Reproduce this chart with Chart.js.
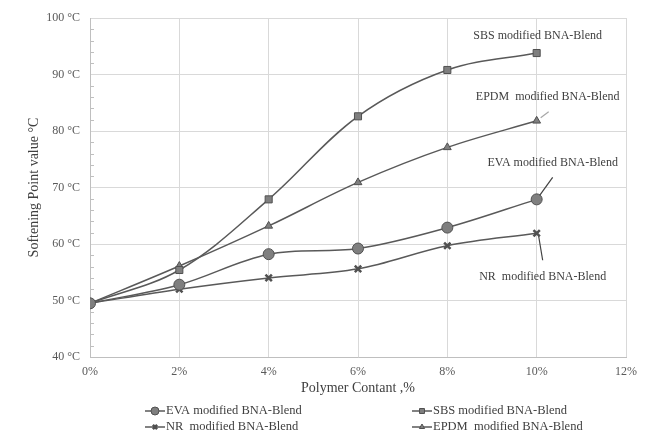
<!DOCTYPE html>
<html>
<head>
<meta charset="utf-8">
<script src="https://cdn.jsdelivr.net/npm/chart.js@4.4.0/dist/chart.umd.min.js"></script>
<style>
html,body{margin:0;padding:0;background:#fff}
</style>
</head>
<body>
<canvas id="myChart" width="653" height="440"></canvas>
<script>
// datos
var contenido = [0, 2, 4, 6, 8, 10];
var evaValores = [49.5, 52.8, 58.2, 59.2, 62.9, 67.9];
var sbsValores = [49.5, 55.4, 67.9, 82.6, 90.8, 93.8];
var nrValores = [49.5, 52.0, 54.0, 55.6, 59.7, 61.9];
var epdmValores = [49.5, 56.1, 63.2, 70.9, 77.1, 81.8];
var nombres = ['EVA modified BNA-Blend', 'SBS modified BNA-Blend', 'NR  modified BNA-Blend', 'EPDM  modified BNA-Blend'];
var etiquetas = ['EVA modified BNA-Blend', 'SBS modified BNA-Blend', 'NR  modified BNA-Blend', 'EPDM  modified BNA-Blend'];
var ejeXMin = 0, ejeXMax = 12, ejeXPaso = 2;
var ejeYMin = 40, ejeYMax = 100, ejeYPaso = 10;

var fuente = '"Liberation Serif", "Times New Roman", serif';

function puntos(valores){
    var lista = [];
    for(var i = 0; i < contenido.length; i++){
        lista.push({x: contenido[i], y: valores[i]});
    }
    return lista;
}

function serie(nombre, valores, estilo, radio, borde){
    return {
        label: nombre,
        data: puntos(valores),
        borderColor: '#595959',
        backgroundColor: '#7f7f7f',
        borderWidth: 1.5,
        tension: 0.35,
        pointStyle: estilo,
        pointRadius: radio,
        pointBorderColor: '#505050',
        pointBackgroundColor: '#7f7f7f',
        pointBorderWidth: borde
    };
}

// posiciones de los textos respecto al ultimo punto
var notas = [
    {dx: 16, dy: -37, linea: [3, -4, 16, -22], color: '#404040'},
    {dx: 1, dy: -17, linea: null},
    {dx: 6, dy: 44, linea: [2, 3, 6, 27], color: '#404040'},
    {dx: 11, dy: -24, linea: [4, -3, 12, -9], color: '#a6a6a6'}
];

var pluginExtras = {
    id: 'extras',
    beforeDatasetsDraw: function(chart){
        var ctx = chart.ctx;
        var y = chart.scales.y;
        ctx.save();
        ctx.strokeStyle = '#bfbfbf';
        ctx.lineWidth = 1;
        for(var v = ejeYMin; v <= ejeYMax; v += 2){
            if(v % ejeYPaso == 0) continue;
            var py = Math.round(y.getPixelForValue(v)) + 0.5;
            ctx.beginPath();
            ctx.moveTo(y.right, py);
            ctx.lineTo(y.right + 4, py);
            ctx.stroke();
        }
        ctx.restore();
    },
    afterDraw: function(chart){
        var ctx = chart.ctx;
        ctx.save();
        // textos junto a las curvas
        ctx.font = '12px ' + fuente;
        ctx.fillStyle = '#404040';
        ctx.textAlign = 'center';
        ctx.textBaseline = 'middle';
        chart.data.datasets.forEach(function(ds, i){
            var meta = chart.getDatasetMeta(i);
            var p = meta.data[meta.data.length - 1];
            var n = notas[i];
            ctx.fillText(etiquetas[i], p.x + n.dx, p.y + n.dy);
            if(n.linea){
                ctx.strokeStyle = n.color;
                ctx.lineWidth = 1.2;
                ctx.beginPath();
                ctx.moveTo(p.x + n.linea[0], p.y + n.linea[1]);
                ctx.lineTo(p.x + n.linea[2], p.y + n.linea[3]);
                ctx.stroke();
            }
        });
        // leyenda en dos columnas
        ctx.font = '12.5px ' + fuente;
        ctx.textAlign = 'left';
        var colX = [145, 412];
        var filaY = [411, 427];
        chart.data.datasets.forEach(function(ds, i){
            var x = colX[i % 2];
            var yy = filaY[Math.floor(i / 2)];
            ctx.strokeStyle = '#595959';
            ctx.lineWidth = 1.5;
            ctx.beginPath();
            ctx.moveTo(x, yy);
            ctx.lineTo(x + 20, yy);
            ctx.stroke();
            ctx.fillStyle = '#7f7f7f';
            ctx.strokeStyle = '#505050';
            ctx.lineWidth = ds.pointBorderWidth;
            Chart.helpers.drawPoint(ctx, {pointStyle: ds.pointStyle, radius: ds.pointRadius - 1.5, rotation: 0, borderWidth: ds.pointBorderWidth}, x + 10, yy);
            ctx.fillStyle = '#404040';
            ctx.fillText(ds.label, x + 21, yy);
        });
        ctx.restore();
    }
};

function setGrafico(){
    const ctx = document.getElementById('myChart').getContext('2d');
    const myChart = new Chart(ctx, {
        type: 'line',
        data: {
            datasets: [
                serie(nombres[0], evaValores, 'circle', 5.5, 1),
                serie(nombres[1], sbsValores, 'rect', 5, 1),
                serie(nombres[2], nrValores, 'crossRot', 4.5, 2.5),
                serie(nombres[3], epdmValores, 'triangle', 4.5, 1)
            ]
        },
        options: {
            responsive: false,
            animation: false,
            devicePixelRatio: 1,
            layout: {padding: {top: 18, right: 27, bottom: 43, left: 0}},
            plugins: {legend: {display: false}, tooltip: {enabled: false}},
            scales: {
                x: {
                    type: 'linear',
                    min: ejeXMin,
                    max: ejeXMax,
                    ticks: {stepSize: ejeXPaso, color: '#595959', padding: 8, font: {family: fuente, size: 12},
                        callback: function(v){ return v + '%'; }},
                    grid: {color: '#d9d9d9', drawTicks: false},
                    border: {color: '#bfbfbf'},
                    title: {display: true, text: 'Polymer Contant ,%', color: '#404040', font: {family: fuente, size: 14}, padding: {top: 0, bottom: 0}},
                    afterFit: function(s){ s.height = 40; }
                },
                y: {
                    min: ejeYMin,
                    max: ejeYMax,
                    ticks: {stepSize: ejeYPaso, color: '#595959', padding: 10, font: {family: fuente, size: 12},
                        callback: function(v){ return v + ' °C'; }},
                    grid: {color: '#d9d9d9', drawTicks: false},
                    border: {color: '#bfbfbf'},
                    title: {display: true, text: 'Softening Point value °C', color: '#404040', font: {family: fuente, size: 14}, padding: {top: 26, bottom: 0}},
                    afterFit: function(s){ s.width = 90; }
                }
            }
        },
        plugins: [pluginExtras]
    });
}

setGrafico();
</script>
</body>
</html>
